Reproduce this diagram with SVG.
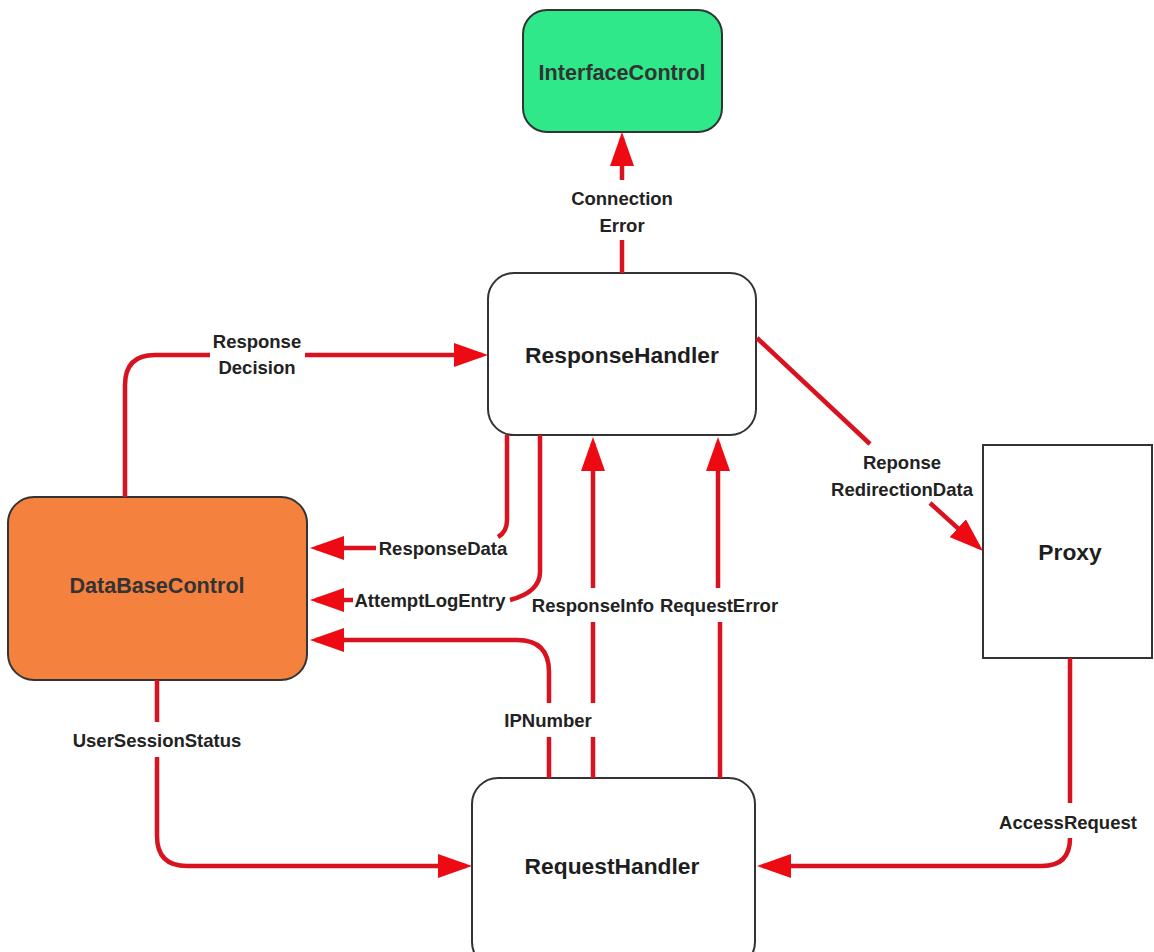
<svg xmlns="http://www.w3.org/2000/svg" width="1154" height="952" viewBox="0 0 1154 952">
  <style>
    .box { stroke: #333; stroke-width: 2; }
    .plain { fill: #ffffff; }
    .green { fill: #2ee88a; }
    .orange { fill: #f5813f; }
    .title { font-family: "Liberation Sans", Arial, sans-serif; font-weight: bold; font-size: 22.8px; fill: #1e1e1e; text-anchor: middle; dominant-baseline: central; }
    .title-light { font-family: "Liberation Sans", Arial, sans-serif; font-weight: bold; font-size: 21.6px; fill: #333; text-anchor: middle; dominant-baseline: central; }
    .label { font-family: "Liberation Sans", Arial, sans-serif; font-weight: bold; font-size: 18.5px; fill: #222; text-anchor: middle; dominant-baseline: central; }
    .wire { fill: none; stroke: #d8131f; stroke-width: 4.5; }
  </style>
  <defs>
    <marker id="head" viewBox="0 0 34 24" refX="28" refY="12" markerWidth="34" markerHeight="24" markerUnits="userSpaceOnUse" orient="auto">
      <path d="M0,0 L34,12 L0,24 Z" fill="#ee0a12"/>
    </marker>
  </defs>

  <rect width="1154" height="952" fill="#ffffff"/>

  <!-- nodes -->
  <g id="interface-control">
    <rect class="box green" x="523" y="10" width="199" height="122" rx="24"/>
    <text class="title-light" x="622" y="72">InterfaceControl</text>
  </g>
  <g id="response-handler">
    <rect class="box plain" x="488" y="273" width="268" height="162" rx="26"/>
    <text class="title" x="622" y="355">ResponseHandler</text>
  </g>
  <g id="database-control">
    <rect class="box orange" x="8" y="497" width="299" height="183" rx="26"/>
    <text class="title-light" x="157" y="585">DataBaseControl</text>
  </g>
  <g id="proxy">
    <rect class="box plain" x="983" y="445" width="169" height="213"/>
    <text class="title" x="1070" y="552">Proxy</text>
  </g>
  <g id="request-handler">
    <rect class="box plain" x="472" y="778" width="283" height="190" rx="26"/>
    <text class="title" x="612" y="866">RequestHandler</text>
  </g>

  <!-- connectors -->
  <g id="connectors">
    <!-- Connection Error -->
    <path class="wire" d="M622,273 V240"/>
    <path class="wire" d="M622,180 V138" marker-end="url(#head)"/>
    <text class="label" x="622" y="198">Connection</text>
    <text class="label" x="622" y="225">Error</text>

    <!-- Response Decision -->
    <path class="wire" d="M125,497 V385 Q125,355 155,355 H210"/>
    <path class="wire" d="M305,355 H482" marker-end="url(#head)"/>
    <text class="label" x="257" y="341">Response</text>
    <text class="label" x="257" y="367">Decision</text>

    <!-- ResponseData -->
    <path class="wire" d="M507,435 V520 Q507,532 498,537"/>
    <path class="wire" d="M376,548 H316" marker-end="url(#head)"/>
    <text class="label" x="443" y="548">ResponseData</text>

    <!-- AttemptLogEntry -->
    <path class="wire" d="M540,435 V572 Q540,592 510,600"/>
    <path class="wire" d="M353,600 H316" marker-end="url(#head)"/>
    <text class="label" x="430" y="600">AttemptLogEntry</text>

    <!-- IPNumber -->
    <path class="wire" d="M549,778 V737"/>
    <path class="wire" d="M549,703 V672 Q549,640 517,640 H316" marker-end="url(#head)"/>
    <text class="label" x="548" y="720">IPNumber</text>

    <!-- ResponseInfo -->
    <path class="wire" d="M593,778 V737"/>
    <path class="wire" d="M593,703 V622"/>
    <path class="wire" d="M593,588 V443" marker-end="url(#head)"/>
    <text class="label" x="593" y="605">ResponseInfo</text>

    <!-- RequestError -->
    <path class="wire" d="M720,778 V622"/>
    <path class="wire" d="M718,588 V443" marker-end="url(#head)"/>
    <text class="label" x="719" y="605">RequestError</text>

    <!-- Reponse RedirectionData -->
    <path class="wire" d="M757,338 L870,444"/>
    <path class="wire" d="M930,503 L978.6,547" marker-end="url(#head)"/>
    <text class="label" x="902" y="462">Reponse</text>
    <text class="label" x="902" y="489">RedirectionData</text>

    <!-- AccessRequest -->
    <path class="wire" d="M1070,658 V803"/>
    <path class="wire" d="M1070,838 Q1070,866 1042,866 H763" marker-end="url(#head)"/>
    <text class="label" x="1068" y="822">AccessRequest</text>

    <!-- UserSessionStatus -->
    <path class="wire" d="M157,680 V722"/>
    <path class="wire" d="M157,757 V836 Q157,866 187,866 H466" marker-end="url(#head)"/>
    <text class="label" x="157" y="740">UserSessionStatus</text>
  </g>
</svg>
